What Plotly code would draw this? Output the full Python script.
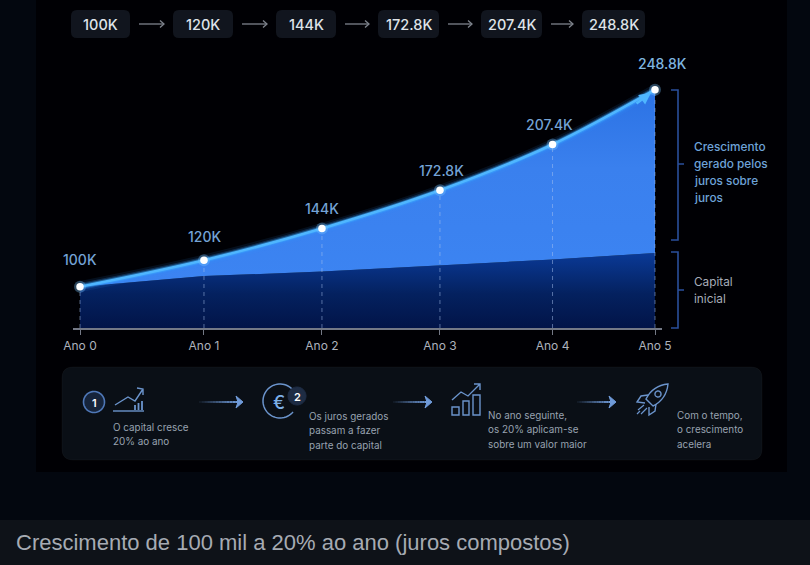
import numpy as np
import plotly.graph_objects as go

# Series, in thousands
year_labels = ["Ano 0", "Ano 1", "Ano 2", "Ano 3", "Ano 4", "Ano 5"]
year_pos = [0, 1.078, 2.104, 3.130, 4.109, 5]
total_value = [100, 120, 144, 172.8, 207.4, 248.8]
capital_share = [100, 108, 111.5, 116, 120.5, 125.5]
value_labels = ["100K", "120K", "144K", "172.8K", "207.4K", "248.8K"]

caption = "Crescimento de 100 mil a 20% ao ano (juros compostos)"
upper_note = ["Crescimento", "gerado pelos", "juros sobre", "juros"]
lower_note = ["Capital", "inicial"]
steps = [
    ["O capital cresce", "20% ao ano"],
    ["Os juros gerados", "passam a fazer", "parte do capital"],
    ["No ano seguinte,", "os 20% aplicam-se", "sobre um valor maior"],
    ["Com o tempo,", "o crescimento", "acelera"],
]

W, H = 810, 565
FONT = "Inter"
ICON = "#6b94cc"

shapes, notes = [], []


def rrect(x0, y0, x1, y1, r):
    return (f"M{x0+r},{y0} L{x1-r},{y0} Q{x1},{y0} {x1},{y0+r} L{x1},{y1-r} Q{x1},{y1} {x1-r},{y1} "
            f"L{x0+r},{y1} Q{x0},{y1} {x0},{y1-r} L{x0},{y0+r} Q{x0},{y0} {x0+r},{y0} Z")


def arc(cx, cy, r, a0, a1, n=48):
    t = np.radians(np.linspace(a0, a1, n))
    pts = [f"{cx + r*np.cos(a):.2f},{cy + r*np.sin(a):.2f}" for a in t]
    return "M" + " L".join(pts)


def path(d, line=ICON, width=1.4, fill=None, opacity=1.0):
    shapes.append(dict(type="path", path=d, xref="x2", yref="y2", opacity=opacity,
                       line=dict(color=line, width=width),
                       fillcolor=fill or "rgba(0,0,0,0)"))


def backdrop(x0, y0, x1, y1, color):
    shapes.append(dict(type="rect", xref="paper", yref="paper", layer="below",
                       x0=x0/W, x1=x1/W, y0=1-y1/H, y1=1-y0/H,
                       fillcolor=color, line=dict(width=0)))


def text(x, y, s, size=12, color="#ffffff", anchor="center", weight=400, family=FONT):
    # Left-anchored annotations carry a small inner padding, taken back with xshift
    notes.append(dict(x=x, y=y, xref="x2", yref="y2", text=s, showarrow=False,
                      xanchor=anchor, yanchor="middle", xshift=-2 if anchor == "left" else 0,
                      font=dict(size=size, color=color, family=family, weight=weight)))


def flow_arrow(x0, x1, y):
    # Shaft fades in from the left towards a solid head
    edges = np.linspace(x0, x1 - 5, 15)
    for i in range(14):
        path(f"M{edges[i]:.1f},{y} L{edges[i+1]:.1f},{y}", line="#6f9ad8", width=2,
             opacity=0.08 + 0.92 * (i / 13))
    path(f"M{x1-7},{y-6} L{x1},{y} L{x1-7},{y+6} L{x1-5},{y} Z", line="#6f9ad8", width=1, fill="#6f9ad8")


# Page regions
backdrop(0, 0, W, 520, "#03070f")
backdrop(36, 0, 787, 472, "#000004")
backdrop(0, 520, W, H, "#0e1218")

# Top row of value chips
chips = [(71, 130), (173, 233), (276, 336), (378, 439), (481, 542), (582, 645)]
for (a, b), lab, yr in zip(chips, value_labels, year_labels):
    path(rrect(a, 10, b, 38, 6), line="rgba(0,0,0,0)", width=0, fill="#11151e")
    text((a + b) / 2, 24.5, lab, size=14.5, color="#dfe3e8", weight=500)
    text((a + b) / 2, -2.5, yr, size=12, color="#b7bcc5")
for (_, a), (b, _) in zip(chips[:-1], chips[1:]):
    mid_a, mid_b = a + 9, b - 9
    path(f"M{mid_a},24 L{mid_b},24", line="#7e838d", width=1.3)
    path(f"M{mid_b-4},20.5 L{mid_b},24 L{mid_b-4},27.5", line="#7e838d", width=1.3)

# Brackets to the right of the chart
BR = "#2a4f9c"
path("M671,90 L678,90 L678,240 L671,240 M678,164 L684,164", line=BR, width=1.6)
path("M671,252 L678,252 L678,328 L671,328 M678,290 L684,290", line=BR, width=1.6)
for i, s in enumerate(upper_note):
    text(694, 147 + i * 17, s, size=11.8, color="#6ea3d8", anchor="left", weight=500)
for i, s in enumerate(lower_note):
    text(694, 282 + i * 17, s, size=11.8, color="#a7adb8", anchor="left")

# Value labels over the curve
label_at = [(80, 259), (204, 236), (322, 208), (441, 170), (549, 124), (662, 63)]
for (x, y), lab in zip(label_at, value_labels):
    text(x, y, lab, size=14, color="#7fb6e0" if lab == "248.8K" else "#74a3d6", weight=500)

# Explanation panel
path(rrect(62, 367, 762, 460, 11), line="rgba(255,255,255,0.03)", width=1, fill="#0a0f16")

path(arc(94, 402, 10.5, 0, 360), line="#4f78b8", width=1.6, fill="#16243b")
text(94, 402.5, "1", size=11, weight=600)
path("M115,405 L128,397 L135,401 L143,389 M137,388 L143,389 L143,395", line=ICON)
path("M113,411 L144,411", line=ICON)
path("M135,410 L135,405 M138.5,410 L138.5,403 M142,410 L142,401", line=ICON, width=1.8)
flow_arrow(199, 243, 402)

path(arc(280, 401, 17, 40, 320), line=ICON, width=1.5)
text(279, 402, "€", size=18, color="#7db0e8", weight=500)
path(arc(297, 396, 9, 0, 360), line="#1e2c44", width=1, fill="#1e2c44")
text(297, 396.5, "2", size=11, weight=600)
flow_arrow(393, 432, 402)

path("M452,407 L459,407 L459,415 L452,415 Z M463,401 L469,401 L469,415 L463,415 Z "
     "M473,395 L480,395 L480,415 L473,415 Z", line=ICON)
path("M452,400 L461,392 L468,396 L480,384 M474,384 L480,384 L480,390", line=ICON)
flow_arrow(577, 616, 402)

path("M668,384 C658,385 650,391 646,399 L653,406 C661,402 667,394 668,384 Z", line=ICON)
path(arc(658, 394, 3, 0, 360), line=ICON)
path("M648,395 L641,396 L637,402 L645,403 M656,404 L655,411 L649,415 L649,407", line=ICON)
path("M638,410 L644,405 M641,414 L647,408 M637,414 L640,411", line=ICON, width=1.2)

for (x, y0), lines in zip([(113, 427), (309, 416), (488, 415), (677, 415)], steps):
    for i, s in enumerate(lines):
        text(x, y0 + i * 14.3, s, size=9.9, color="#98a2b0", anchor="left")

# Caption band
text(16, 542, caption, size=22, color="#a6abb3", anchor="left", family="Liberation Sans")

# Plot scale: 1.324 px per thousand, baseline and top taken from the plot area
px_per_unit = 1.324
y_low, y_high = 100 - 41.3 / px_per_unit, 100 + 226.7 / px_per_unit

fig = go.Figure()

# Capital block
fig.add_trace(go.Scatter(
    x=year_pos, y=capital_share, mode="lines", line=dict(width=0, color="rgba(0,0,0,0)"),
    fill="tozeroy",
    fillgradient=dict(type="vertical", start=y_low, stop=126,
                      colorscale=[[0, "#021448"], [0.45, "#04215f"], [1, "#0a3a98"]]),
    hoverinfo="skip"))

# Interest block between capital and total
fig.add_trace(go.Scatter(
    x=year_pos, y=total_value, mode="lines", line=dict(width=0, color="rgba(0,0,0,0)", shape="spline"),
    fill="tonexty",
    fillgradient=dict(type="vertical", start=100, stop=249,
                      colorscale=[[0, "#3c84f2"], [0.6, "#3a80ee"], [1, "#2b72e4"]]),
    hoverinfo="skip"))

# Drop lines from each point to the axis
for xv, yv in zip(year_pos, total_value):
    fig.add_trace(go.Scatter(x=[xv, xv], y=[y_low, yv], mode="lines", hoverinfo="skip",
                             line=dict(color="rgba(170,195,240,0.5)", width=1, dash="4px,4px")))

# Glowing growth curve
for width, colour in [(11, "rgba(50,150,255,0.10)"), (7, "rgba(50,150,255,0.22)"),
                      (4.5, "rgba(60,170,255,0.45)"), (2.6, "#4fb6ff")]:
    fig.add_trace(go.Scatter(x=year_pos, y=total_value, mode="lines", hoverinfo="skip",
                             line=dict(color=colour, width=width, shape="spline")))

# Point markers with a halo
fig.add_trace(go.Scatter(x=year_pos, y=total_value, mode="markers", hoverinfo="skip", cliponaxis=False,
                         marker=dict(size=12, color="rgba(120,195,255,0.35)", line=dict(width=0))))
fig.add_trace(go.Scatter(x=year_pos, y=total_value, mode="markers", hoverinfo="skip", cliponaxis=False,
                         marker=dict(size=7.5, color="#ffffff", line=dict(width=0))))

# Empty trace that keeps the annotation axes alive
fig.add_trace(go.Scatter(x=[None], y=[None], xaxis="x2", yaxis="y2", hoverinfo="skip"))

# Arrowhead at the end of the curve
notes.append(dict(x=year_pos[-1], y=total_value[-1], xref="x", yref="y", ax=-20, ay=15, text="",
                  showarrow=True, arrowhead=2, arrowsize=0.9, arrowwidth=2.6, arrowcolor="#4fb6ff", standoff=5))

fig.update_layout(
    width=W, height=H, margin=dict(l=0, r=0, t=0, b=0, pad=0, autoexpand=False), autosize=False,
    paper_bgcolor="#03070f", plot_bgcolor="rgba(0,0,0,0)", showlegend=False,
    xaxis=dict(domain=[73 / W, 662 / W], range=[-7 / 115, 582 / 115], tickmode="array",
               tickvals=year_pos, ticktext=year_labels, showgrid=False, zeroline=False,
               showline=True, linecolor="#747986", linewidth=2, ticks="outside", ticklen=5,
               tickwidth=1, tickcolor="#747986", ticklabelstandoff=1,
               tickfont=dict(family=FONT, size=12, color="#adb2bc"), fixedrange=True),
    yaxis=dict(domain=[1 - 328 / H, 1 - 60 / H], range=[y_low, y_high], visible=False, fixedrange=True),
    xaxis2=dict(domain=[0, 1], range=[0, W], visible=False, anchor="y2", fixedrange=True),
    yaxis2=dict(domain=[0, 1], range=[H, 0], visible=False, anchor="x2", fixedrange=True),
    shapes=shapes, annotations=notes,
)

fig.write_html("out.html", config={"displayModeBar": False})
